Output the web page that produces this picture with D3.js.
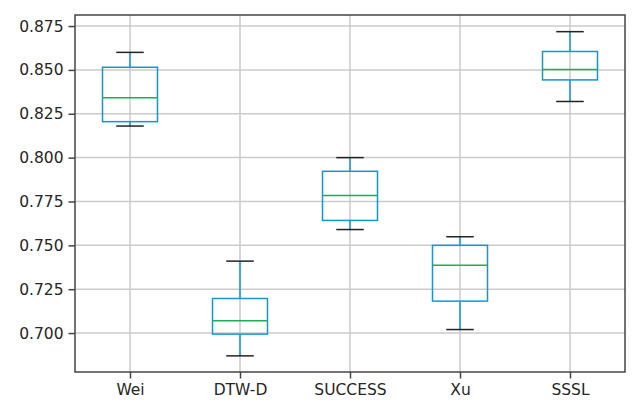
<!DOCTYPE html>
<html>
<head>
<meta charset="utf-8">
<script src="https://cdn.jsdelivr.net/npm/d3@7"></script>
<style>
  body { margin: 0; background: #fff; }
  text { font-family: "DejaVu Sans", sans-serif; }
</style>
</head>
<body>
<div id="chart-container"></div>
<script>
// box stats

const methods = ["Wei", "DTW-D", "SUCCESS", "Xu", "SSSL"];
const whiskerLow = [0.818, 0.687, 0.759, 0.702, 0.832];
const q1 = [0.8205, 0.6994, 0.7642, 0.7182, 0.8443];
const median = [0.8342, 0.7070, 0.7784, 0.7386, 0.8502];
const q3 = [0.8515, 0.7197, 0.7922, 0.7500, 0.8605];
const whiskerHigh = [0.860, 0.741, 0.800, 0.7549, 0.8718];
const yTicks = [0.700, 0.725, 0.750, 0.775, 0.800, 0.825, 0.850, 0.875];

const margin = { top: 15, right: 12, bottom: 31, left: 75 };
const width = 637 - margin.left - margin.right;
const height = 403 - margin.top - margin.bottom;

const boxes = methods.map((m, i) => ({
  name: m, lo: whiskerLow[i], q1: q1[i], med: median[i], q3: q3[i], hi: whiskerHigh[i]
}));

// 

const x = d3.scalePoint()
  .domain(methods)
  .range([0, width])
  .padding(0.5);

const y = d3.scaleLinear()
  .domain([0.6778, 0.8813])
  .range([height, 0]);

const boxW = x.step() * 0.5;

const svg = d3.select("#chart-container")
  .append("svg")
    .attr("width", width + margin.left + margin.right)
    .attr("height", height + margin.top + margin.bottom)
  .append("g")
    .attr("transform", `translate(${margin.left},${margin.top})`);

// grid

svg.append("g")
  .selectAll("line.hgrid")
  .data(yTicks)
  .join("line")
    .attr("x1", 0).attr("x2", width)
    .attr("y1", d => y(d)).attr("y2", d => y(d))
    .attr("stroke", "#cbcbcb")
    .attr("stroke-width", 1.5);

svg.append("g")
  .selectAll("line.vgrid")
  .data(methods)
  .join("line")
    .attr("x1", d => x(d)).attr("x2", d => x(d))
    .attr("y1", 0).attr("y2", height)
    .attr("stroke", "#cbcbcb")
    .attr("stroke-width", 1.5);

// axes

const yAxis = svg.append("g")
  .call(d3.axisLeft(y)
    .tickValues(yTicks)
    .tickFormat(d3.format(".3f"))
    .tickSize(6.5)
    .tickPadding(5));

const xAxis = svg.append("g")
  .attr("transform", `translate(0,${height})`)
  .call(d3.axisBottom(x)
    .tickSize(6.5)
    .tickPadding(5));

[xAxis, yAxis].forEach(a => {
  a.select(".domain").remove();
  a.selectAll(".tick line").attr("stroke", "#444").attr("stroke-width", 1.5);
  a.selectAll(".tick text")
    .attr("fill", "#262626")
    .style("font-size", "15.5px")
    .style("font-family", "DejaVu Sans");
});

// frame

svg.append("rect")
  .attr("x", 0).attr("y", 0)
  .attr("width", width).attr("height", height)
  .attr("fill", "none")
  .attr("stroke", "#444")
  .attr("stroke-width", 1.5);

// boxes

const g = svg.append("g")
  .selectAll("g")
  .data(boxes)
  .join("g")
    .attr("transform", d => `translate(${x(d.name)},0)`);

const boxColor = "#1497d0";

g.append("line")
  .attr("y1", d => y(d.hi)).attr("y2", d => y(d.q3))
  .attr("stroke", boxColor).attr("stroke-width", 1.5);

g.append("line")
  .attr("y1", d => y(d.q1)).attr("y2", d => y(d.lo))
  .attr("stroke", boxColor).attr("stroke-width", 1.5);

g.append("rect")
  .attr("x", -boxW / 2)
  .attr("y", d => y(d.q3))
  .attr("width", boxW)
  .attr("height", d => y(d.q1) - y(d.q3))
  .attr("fill", "none")
  .attr("stroke", boxColor)
  .attr("stroke-width", 1.5);

g.append("line")
  .attr("x1", -boxW / 2).attr("x2", boxW / 2)
  .attr("y1", d => y(d.med)).attr("y2", d => y(d.med))
  .attr("stroke", "#1fab5a").attr("stroke-width", 1.5);

g.selectAll("line.cap")
  .data(d => [d.lo, d.hi])
  .join("line")
    .attr("class", "cap")
    .attr("x1", -boxW / 4).attr("x2", boxW / 4)
    .attr("y1", v => y(v)).attr("y2", v => y(v))
    .attr("stroke", "#222").attr("stroke-width", 1.5);
</script>
</body>
</html>
